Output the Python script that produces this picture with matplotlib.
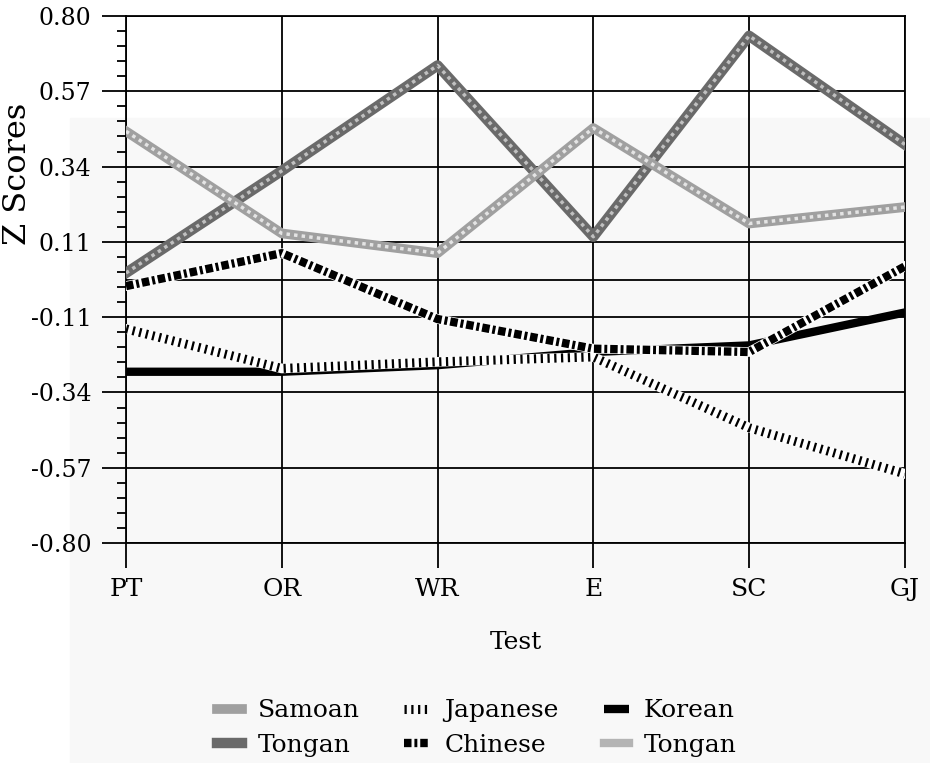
import numpy as np
import matplotlib
matplotlib.use("Agg")
import matplotlib.pyplot as plt
from matplotlib.ticker import AutoMinorLocator, FormatStrFormatter
from matplotlib.patches import Rectangle

# test categories and z scores
tests = ["PT", "OR", "WR", "E", "SC", "GJ"]
samoan = [0.45, 0.14, 0.08, 0.46, 0.17, 0.22]
tongan = [0.02, 0.33, 0.65, 0.13, 0.74, 0.41]
japanese = [-0.15, -0.27, -0.25, -0.235, -0.45, -0.59]
chinese = [-0.02, 0.08, -0.12, -0.21, -0.22, 0.04]
korean = [-0.28, -0.28, -0.26, -0.22, -0.20, -0.10]

plt.rcParams["font.family"] = ["DejaVu Serif"]

fig = plt.figure(figsize=(9.3, 7.63), dpi=100)
# faint grey of the scanned page behind the chart
fig.patches.append(Rectangle((0.075, 0.0), 0.925, 0.845, transform=fig.transFigure,
                             color="#f8f8f8", zorder=-10))
ax = fig.add_axes([0.1355, 0.2883, 0.8375, 0.6907])
ax.set_facecolor("none")

x = np.arange(len(tests))

# korean: solid black
ax.plot(x, korean, color="black", lw=6, solid_capstyle="butt", zorder=3, label="Korean")
# japanese: short slanted strokes
ax.plot(x, japanese, color="white", lw=7, zorder=4)
ax.plot(x, japanese, color="black", lw=6.5, dashes=(0.25, 0.5), zorder=4, label="Japanese")
# chinese: zigzag with dots
ax.plot(x, chinese, color="white", lw=7, zorder=5)
ax.plot(x, chinese, color="black", lw=6, dashes=(0.9, 0.35, 0.35, 0.35), zorder=5, label="Chinese")
# tongan: dark checker
ax.plot(x, tongan, color="#6a6a6a", lw=7.5, zorder=6, label="Tongan")
ax.plot(x, tongan, color="#c0c0c0", lw=2.5, dashes=(1, 1.2), zorder=6)
# samoan: light checker
ax.plot(x, samoan, color="#a0a0a0", lw=7, zorder=7, label="Samoan")
ax.plot(x, samoan, color="#e4e4e4", lw=2.5, dashes=(1, 1.2), zorder=7)

ax.set_xlim(0, len(tests) - 1)
ax.set_ylim(-0.8, 0.8)
ax.set_xticks(x)
ax.set_xticklabels(tests)
ax.set_yticks(np.linspace(-0.8, 0.8, 8))
ax.yaxis.set_major_formatter(FormatStrFormatter("%.2f"))
ax.yaxis.set_minor_locator(AutoMinorLocator(5))

ax.grid(True, which="major", color="black", lw=1.3)
ax.axhline(0, color="black", lw=1.3, zorder=1)
for s in ax.spines.values():
    s.set_linewidth(1.3)

ax.tick_params(axis="y", which="major", direction="out", length=17, width=1.3, pad=8, labelsize=17)
ax.tick_params(axis="y", which="minor", direction="out", length=6.5, width=1.3)
ax.tick_params(axis="x", which="major", direction="out", length=18, width=1.3, pad=7, labelsize=18)

ax.set_ylabel("Z Scores", fontsize=23)
ax.yaxis.set_label_coords(-0.12, 0.70)
ax.set_xlabel("Test", fontsize=18, labelpad=22)

# legend: second tongan entry has no visible line in the chart
tongan2, = ax.plot([], [], color="#b4b4b4", lw=6)
h, l = ax.get_legend_handles_labels()
order = ["Samoan", "Tongan", "Japanese", "Chinese", "Korean"]
handles = [h[l.index(n)] for n in order] + [tongan2]
labels = order + ["Tongan"]
fig.legend(handles, labels, ncol=3, frameon=False, loc="center",
           bbox_to_anchor=(0.513, 0.046), fontsize=18, handlelength=1.0,
           handletextpad=0.6, columnspacing=1.8, labelspacing=0.45)

fig.savefig("out.png", dpi=100)
